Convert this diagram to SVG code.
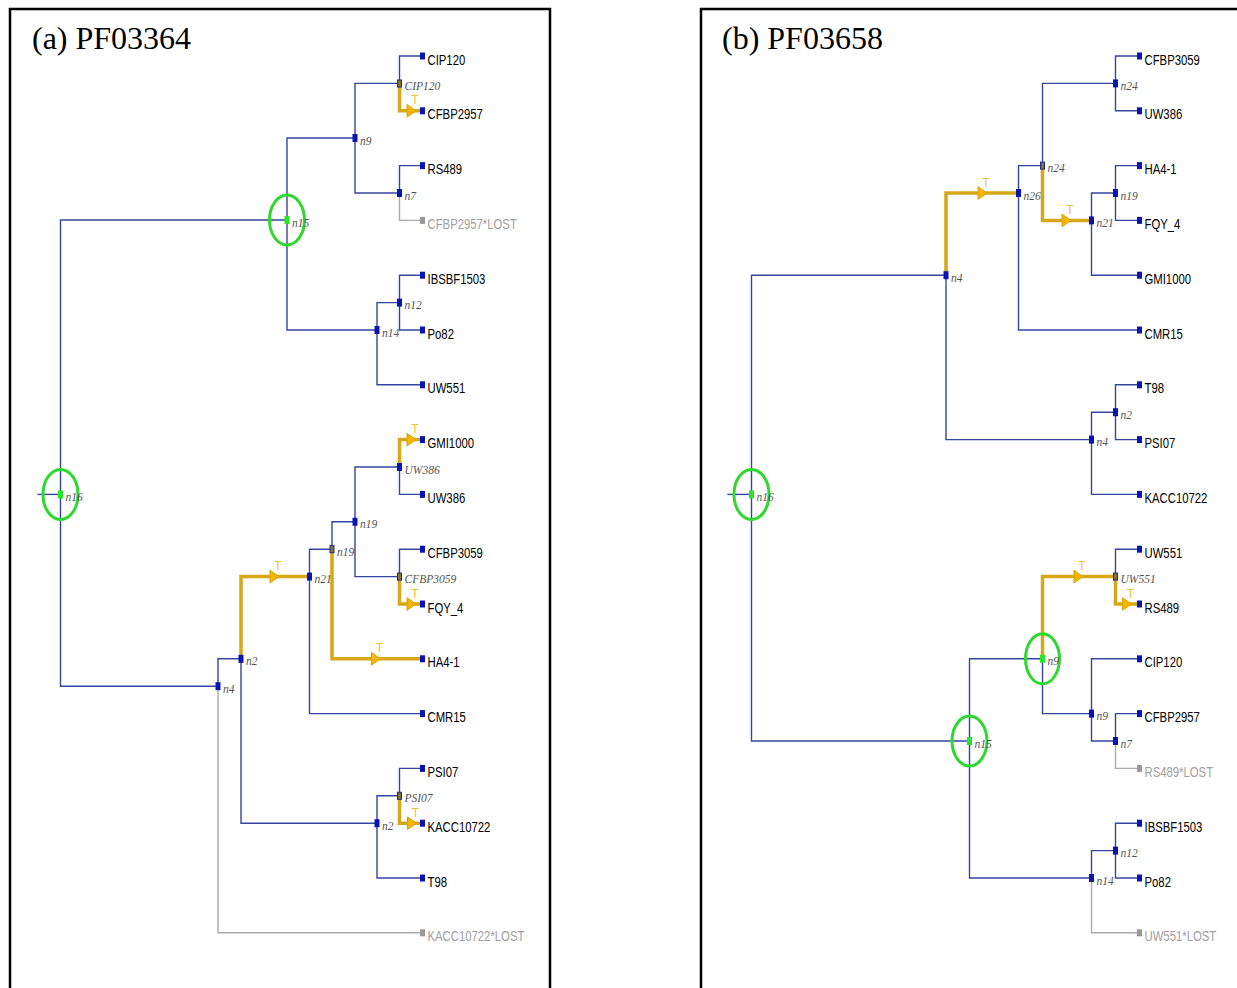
<svg xmlns="http://www.w3.org/2000/svg" xmlns:xlink="http://www.w3.org/1999/xlink" width="1237" height="988" viewBox="0 0 1237 988">
<style>
.frame{fill:none;stroke:#000;stroke-width:2.5}
.title{font-family:"Liberation Serif","Times New Roman",serif;font-size:32px;fill:#000}
.b{fill:none;stroke:#3445a0;stroke-width:1.4}
.g{fill:none;stroke:#aaaaaa;stroke-width:1.4}
.y{fill:none;stroke:#d6a716;stroke-width:3.5;stroke-linejoin:miter}
.arr{fill:#f7b500;stroke:#d9a400;stroke-width:1}
.t{font-family:"Liberation Sans",Arial,sans-serif;font-size:12px;fill:#f0c230;text-anchor:middle}
.nd{fill:#0a14b4}
.dup{fill:#8a7030;stroke:#1b2a90;stroke-width:1}
.gn{fill:#22e822}
.ring{fill:none;stroke:#2ed82e;stroke-width:3}
.lf{fill:#0a14b4}
.lfg{fill:#999999}
.nl{font-family:"Liberation Serif","Times New Roman",serif;font-style:italic;font-size:11.5px;fill:#555}
.leaf{font-family:"Liberation Sans",Arial,sans-serif;font-size:15px;fill:#000}
.lost{font-family:"Liberation Sans",Arial,sans-serif;font-size:15px;fill:#a0a0a0}
</style>
<defs>
<path id="arr" class="arr" d="M-9,-6.3 L0,0 L-9,6.3 Z"/>
<rect id="sq" x="-2.5" y="-4" width="5" height="8"/>
<rect id="lsq" x="0" y="-3.5" width="5" height="7"/>
</defs>
<rect width="1237" height="988" fill="#fff"/>
<rect class="frame" x="10" y="9" width="540" height="1000"/>
<rect class="frame" x="701" y="9" width="600" height="1000"/>
<text class="title" x="32" y="49">(a) PF03364</text>
<text class="title" x="722" y="49">(b) PF03658</text>

<g id="connectors">
<!-- left tree -->
<path class="b" d="M37.5,494.4 H60.5"/>
<path class="b" d="M287,220 H60.5 V686.2 H218"/>
<path class="b" d="M355,138 H287 V330 H377"/>
<path class="b" d="M399.5,83.4 H355 V193 H399.5"/>
<path class="b" d="M420,56 H399.5 V83.4"/>
<path class="b" d="M420,165.6 H399.5 V193"/>
<path class="g" d="M399.5,193 V220.4 H420"/>
<path class="b" d="M399.5,302.6 H377 V384.8 H420"/>
<path class="b" d="M420,275.2 H399.5 V330 H420"/>
<path class="b" d="M241,658.8 H218 V686.2"/>
<path class="g" d="M218,686.2 V932.8 H420"/>
<path class="b" d="M241,658.8 V823.2 H377"/>
<path class="b" d="M332,549.2 H309.5 V713.6 H420"/>
<path class="b" d="M332,549.2 V521.8 H355"/>
<path class="b" d="M399.5,467 H355 V576.6 H399.5"/>
<path class="b" d="M399.5,467 V494.4 H420"/>
<path class="b" d="M420,549.2 H399.5 V576.6"/>
<path class="b" d="M399.5,795.8 H377 V878 H420"/>
<path class="b" d="M420,768.4 H399.5 V795.8"/>
<path class="y" d="M399.5,83.4 V110.8 H420"/>
<path class="y" d="M399.5,467 V439.6 H420"/>
<path class="y" d="M399.5,576.6 V604 H420"/>
<path class="y" d="M241,658.8 V576.6 H309.5"/>
<path class="y" d="M332,549.2 V658.8 H420"/>
<path class="y" d="M399.5,795.8 V823.2 H420"/>
<!-- right tree -->
<path class="b" d="M727.4,494.4 H751.5"/>
<path class="b" d="M946,275.2 H751.5 V741 H969.5"/>
<path class="b" d="M946,275.2 V439.6 H1091.5"/>
<path class="b" d="M1042.5,165.6 H1018.5 V330 H1137"/>
<path class="b" d="M1042.5,165.6 V83.4 H1115.5"/>
<path class="b" d="M1137,56 H1115.5 V110.8 H1137"/>
<path class="b" d="M1115.5,193 H1091.5 V275.2 H1137"/>
<path class="b" d="M1137,165.6 H1115.5 V220.4 H1137"/>
<path class="b" d="M1115.5,412.2 H1091.5 V494.4 H1137"/>
<path class="b" d="M1137,384.8 H1115.5 V439.6 H1137"/>
<path class="b" d="M1042.5,658.8 H969.5 V878 H1091.5"/>
<path class="b" d="M1042.5,658.8 V713.6 H1091.5"/>
<path class="b" d="M1137,549.2 H1115.5 V576.6"/>
<path class="b" d="M1137,658.8 H1091.5 V741 H1115.5"/>
<path class="b" d="M1137,713.6 H1115.5 V741"/>
<path class="g" d="M1115.5,741 V768.4 H1137"/>
<path class="b" d="M1115.5,850.6 H1091.5 V878"/>
<path class="g" d="M1091.5,878 V932.8 H1137"/>
<path class="b" d="M1137,823.2 H1115.5 V878 H1137"/>
<path class="y" d="M946,275.2 V193 H1018.5"/>
<path class="y" d="M1042.5,165.6 V220.4 H1091.5"/>
<path class="y" d="M1042.5,658.8 V576.6 H1115.5"/>
<path class="y" d="M1115.5,576.6 V604 H1137"/>
<!-- transfer arrows -->
<use href="#arr" x="416" y="110.8"/><text class="t" x="415" y="104.3">T</text>
<use href="#arr" x="416" y="439.6"/><text class="t" x="415" y="433.1">T</text>
<use href="#arr" x="416" y="604"/><text class="t" x="415" y="597.5">T</text>
<use href="#arr" x="279" y="576.6"/><text class="t" x="278" y="570.1">T</text>
<use href="#arr" x="380.5" y="658.8"/><text class="t" x="379.5" y="652.3">T</text>
<use href="#arr" x="416.5" y="823.2"/><text class="t" x="415.5" y="816.7">T</text>
<use href="#arr" x="987" y="193"/><text class="t" x="986" y="186.5">T</text>
<use href="#arr" x="1071" y="220.4"/><text class="t" x="1070" y="213.9">T</text>
<use href="#arr" x="1083" y="576.6"/><text class="t" x="1082" y="570.1">T</text>
<use href="#arr" x="1131.5" y="604"/><text class="t" x="1130.5" y="597.5">T</text>
</g>

<!-- left internal nodes -->
<g id="a-n16"><ellipse class="ring" cx="60.5" cy="494.4" rx="17.5" ry="25"/><use href="#sq" class="gn" x="60.5" y="494.4"/><text class="nl" x="65.5" y="501">n16</text></g>
<g id="a-n15"><ellipse class="ring" cx="287" cy="220" rx="17.5" ry="25"/><use href="#sq" class="gn" x="287" y="220"/><text class="nl" x="292" y="226.5">n15</text></g>
<g id="a-n9"><use href="#sq" class="nd" x="355" y="138"/><text class="nl" x="360" y="144.5">n9</text></g>
<g id="a-dCIP120"><rect class="dup" x="397.5" y="80" width="4" height="7"/><text class="nl" x="404.5" y="90">CIP120</text></g>
<g id="a-n7"><use href="#sq" class="nd" x="399.5" y="193"/><text class="nl" x="404.5" y="199.5">n7</text></g>
<g id="a-n14"><use href="#sq" class="nd" x="377" y="330"/><text class="nl" x="382" y="336.5">n14</text></g>
<g id="a-n12"><use href="#sq" class="nd" x="399.5" y="302.6"/><text class="nl" x="404.5" y="309">n12</text></g>
<g id="a-dUW386"><use href="#sq" class="nd" x="399.5" y="467"/><text class="nl" x="404.5" y="473.5">UW386</text></g>
<g id="a-n19a"><use href="#sq" class="nd" x="355" y="521.8"/><text class="nl" x="360" y="528.3">n19</text></g>
<g id="a-n19b"><rect class="dup" x="330" y="545.7" width="4" height="7"/><text class="nl" x="337" y="555.7">n19</text></g>
<g id="a-n21"><use href="#sq" class="nd" x="309.5" y="576.6"/><text class="nl" x="314.5" y="583.1">n21</text></g>
<g id="a-dCFBP3059"><rect class="dup" x="397.5" y="573.1" width="4" height="7"/><text class="nl" x="404.5" y="583.1">CFBP3059</text></g>
<g id="a-n2a"><use href="#sq" class="nd" x="241" y="658.8"/><text class="nl" x="246" y="665.3">n2</text></g>
<g id="a-n4"><use href="#sq" class="nd" x="218" y="686.2"/><text class="nl" x="223" y="692.7">n4</text></g>
<g id="a-n2b"><use href="#sq" class="nd" x="377" y="823.2"/><text class="nl" x="382" y="829.7">n2</text></g>
<g id="a-dPSI07"><rect class="dup" x="397.5" y="792.3" width="4" height="7"/><text class="nl" x="404.5" y="802.3">PSI07</text></g>

<!-- left leaves -->
<g id="a-CIP120"><use href="#lsq" class="lf" x="420" y="56"/><text class="leaf" transform="translate(427.5,64.5) scale(0.755,1)">CIP120</text></g>
<g id="a-CFBP2957"><use href="#lsq" class="lf" x="420" y="110.8"/><text class="leaf" transform="translate(427.5,119.3) scale(0.755,1)">CFBP2957</text></g>
<g id="a-RS489"><use href="#lsq" class="lf" x="420" y="165.6"/><text class="leaf" transform="translate(427.5,174.1) scale(0.755,1)">RS489</text></g>
<g id="a-CFBP2957LOST"><use href="#lsq" class="lfg" x="420" y="220.4"/><text class="lost" transform="translate(427.5,228.9) scale(0.755,1)">CFBP2957*LOST</text></g>
<g id="a-IBSBF1503"><use href="#lsq" class="lf" x="420" y="275.2"/><text class="leaf" transform="translate(427.5,283.7) scale(0.755,1)">IBSBF1503</text></g>
<g id="a-Po82"><use href="#lsq" class="lf" x="420" y="330"/><text class="leaf" transform="translate(427.5,338.5) scale(0.755,1)">Po82</text></g>
<g id="a-UW551"><use href="#lsq" class="lf" x="420" y="384.8"/><text class="leaf" transform="translate(427.5,393.3) scale(0.755,1)">UW551</text></g>
<g id="a-GMI1000"><use href="#lsq" class="lf" x="420" y="439.6"/><text class="leaf" transform="translate(427.5,448.1) scale(0.755,1)">GMI1000</text></g>
<g id="a-UW386"><use href="#lsq" class="lf" x="420" y="494.4"/><text class="leaf" transform="translate(427.5,502.9) scale(0.755,1)">UW386</text></g>
<g id="a-CFBP3059"><use href="#lsq" class="lf" x="420" y="549.2"/><text class="leaf" transform="translate(427.5,557.7) scale(0.755,1)">CFBP3059</text></g>
<g id="a-FQY_4"><use href="#lsq" class="lf" x="420" y="604"/><text class="leaf" transform="translate(427.5,612.5) scale(0.755,1)">FQY_4</text></g>
<g id="a-HA4-1"><use href="#lsq" class="lf" x="420" y="658.8"/><text class="leaf" transform="translate(427.5,667.3) scale(0.755,1)">HA4-1</text></g>
<g id="a-CMR15"><use href="#lsq" class="lf" x="420" y="713.6"/><text class="leaf" transform="translate(427.5,722.1) scale(0.755,1)">CMR15</text></g>
<g id="a-PSI07"><use href="#lsq" class="lf" x="420" y="768.4"/><text class="leaf" transform="translate(427.5,776.9) scale(0.755,1)">PSI07</text></g>
<g id="a-KACC10722"><use href="#lsq" class="lf" x="420" y="823.2"/><text class="leaf" transform="translate(427.5,831.7) scale(0.755,1)">KACC10722</text></g>
<g id="a-T98"><use href="#lsq" class="lf" x="420" y="878"/><text class="leaf" transform="translate(427.5,886.5) scale(0.755,1)">T98</text></g>
<g id="a-KACC10722LOST"><use href="#lsq" class="lfg" x="420" y="932.8"/><text class="lost" transform="translate(427.5,941.3) scale(0.755,1)">KACC10722*LOST</text></g>

<!-- right internal nodes -->
<g id="b-n16"><ellipse class="ring" cx="751.5" cy="494.4" rx="17.5" ry="25"/><use href="#sq" class="gn" x="751.5" y="494.4"/><text class="nl" x="756.5" y="501">n16</text></g>
<g id="b-n4a"><use href="#sq" class="nd" x="946" y="275.2"/><text class="nl" x="951" y="281.7">n4</text></g>
<g id="b-n26"><use href="#sq" class="nd" x="1018.5" y="193"/><text class="nl" x="1023.5" y="199.5">n26</text></g>
<g id="b-n24b"><rect class="dup" x="1040.5" y="162.1" width="4" height="7"/><text class="nl" x="1047.5" y="172.1">n24</text></g>
<g id="b-n24a"><use href="#sq" class="nd" x="1115.5" y="83.4"/><text class="nl" x="1120.5" y="89.9">n24</text></g>
<g id="b-n21"><use href="#sq" class="nd" x="1091.5" y="220.4"/><text class="nl" x="1096.5" y="226.9">n21</text></g>
<g id="b-n19"><use href="#sq" class="nd" x="1115.5" y="193"/><text class="nl" x="1120.5" y="199.5">n19</text></g>
<g id="b-n4b"><use href="#sq" class="nd" x="1091.5" y="439.6"/><text class="nl" x="1096.5" y="446.1">n4</text></g>
<g id="b-n2"><use href="#sq" class="nd" x="1115.5" y="412.2"/><text class="nl" x="1120.5" y="418.7">n2</text></g>
<g id="b-n15"><ellipse class="ring" cx="969.5" cy="741" rx="17.5" ry="25"/><use href="#sq" class="gn" x="969.5" y="741"/><text class="nl" x="974.5" y="747.5">n15</text></g>
<g id="b-n9a"><ellipse class="ring" cx="1042.5" cy="658.8" rx="17" ry="25"/><use href="#sq" class="gn" x="1042.5" y="658.8"/><text class="nl" x="1047.5" y="665.3">n9</text></g>
<g id="b-dUW551"><rect class="dup" x="1113.5" y="573.1" width="4" height="7"/><text class="nl" x="1120.5" y="583.1">UW551</text></g>
<g id="b-n9b"><use href="#sq" class="nd" x="1091.5" y="713.6"/><text class="nl" x="1096.5" y="720.1">n9</text></g>
<g id="b-n7"><use href="#sq" class="nd" x="1115.5" y="741"/><text class="nl" x="1120.5" y="747.5">n7</text></g>
<g id="b-n14"><use href="#sq" class="nd" x="1091.5" y="878"/><text class="nl" x="1096.5" y="884.5">n14</text></g>
<g id="b-n12"><use href="#sq" class="nd" x="1115.5" y="850.6"/><text class="nl" x="1120.5" y="857.1">n12</text></g>

<!-- right leaves -->
<g id="b-CFBP3059"><use href="#lsq" class="lf" x="1137" y="56"/><text class="leaf" transform="translate(1144.5,64.5) scale(0.755,1)">CFBP3059</text></g>
<g id="b-UW386"><use href="#lsq" class="lf" x="1137" y="110.8"/><text class="leaf" transform="translate(1144.5,119.3) scale(0.755,1)">UW386</text></g>
<g id="b-HA4-1"><use href="#lsq" class="lf" x="1137" y="165.6"/><text class="leaf" transform="translate(1144.5,174.1) scale(0.755,1)">HA4-1</text></g>
<g id="b-FQY_4"><use href="#lsq" class="lf" x="1137" y="220.4"/><text class="leaf" transform="translate(1144.5,228.9) scale(0.755,1)">FQY_4</text></g>
<g id="b-GMI1000"><use href="#lsq" class="lf" x="1137" y="275.2"/><text class="leaf" transform="translate(1144.5,283.7) scale(0.755,1)">GMI1000</text></g>
<g id="b-CMR15"><use href="#lsq" class="lf" x="1137" y="330"/><text class="leaf" transform="translate(1144.5,338.5) scale(0.755,1)">CMR15</text></g>
<g id="b-T98"><use href="#lsq" class="lf" x="1137" y="384.8"/><text class="leaf" transform="translate(1144.5,393.3) scale(0.755,1)">T98</text></g>
<g id="b-PSI07"><use href="#lsq" class="lf" x="1137" y="439.6"/><text class="leaf" transform="translate(1144.5,448.1) scale(0.755,1)">PSI07</text></g>
<g id="b-KACC10722"><use href="#lsq" class="lf" x="1137" y="494.4"/><text class="leaf" transform="translate(1144.5,502.9) scale(0.755,1)">KACC10722</text></g>
<g id="b-UW551"><use href="#lsq" class="lf" x="1137" y="549.2"/><text class="leaf" transform="translate(1144.5,557.7) scale(0.755,1)">UW551</text></g>
<g id="b-RS489"><use href="#lsq" class="lf" x="1137" y="604"/><text class="leaf" transform="translate(1144.5,612.5) scale(0.755,1)">RS489</text></g>
<g id="b-CIP120"><use href="#lsq" class="lf" x="1137" y="658.8"/><text class="leaf" transform="translate(1144.5,667.3) scale(0.755,1)">CIP120</text></g>
<g id="b-CFBP2957"><use href="#lsq" class="lf" x="1137" y="713.6"/><text class="leaf" transform="translate(1144.5,722.1) scale(0.755,1)">CFBP2957</text></g>
<g id="b-RS489LOST"><use href="#lsq" class="lfg" x="1137" y="768.4"/><text class="lost" transform="translate(1144.5,776.9) scale(0.755,1)">RS489*LOST</text></g>
<g id="b-IBSBF1503"><use href="#lsq" class="lf" x="1137" y="823.2"/><text class="leaf" transform="translate(1144.5,831.7) scale(0.755,1)">IBSBF1503</text></g>
<g id="b-Po82"><use href="#lsq" class="lf" x="1137" y="878"/><text class="leaf" transform="translate(1144.5,886.5) scale(0.755,1)">Po82</text></g>
<g id="b-UW551LOST"><use href="#lsq" class="lfg" x="1137" y="932.8"/><text class="lost" transform="translate(1144.5,941.3) scale(0.755,1)">UW551*LOST</text></g>
</svg>
